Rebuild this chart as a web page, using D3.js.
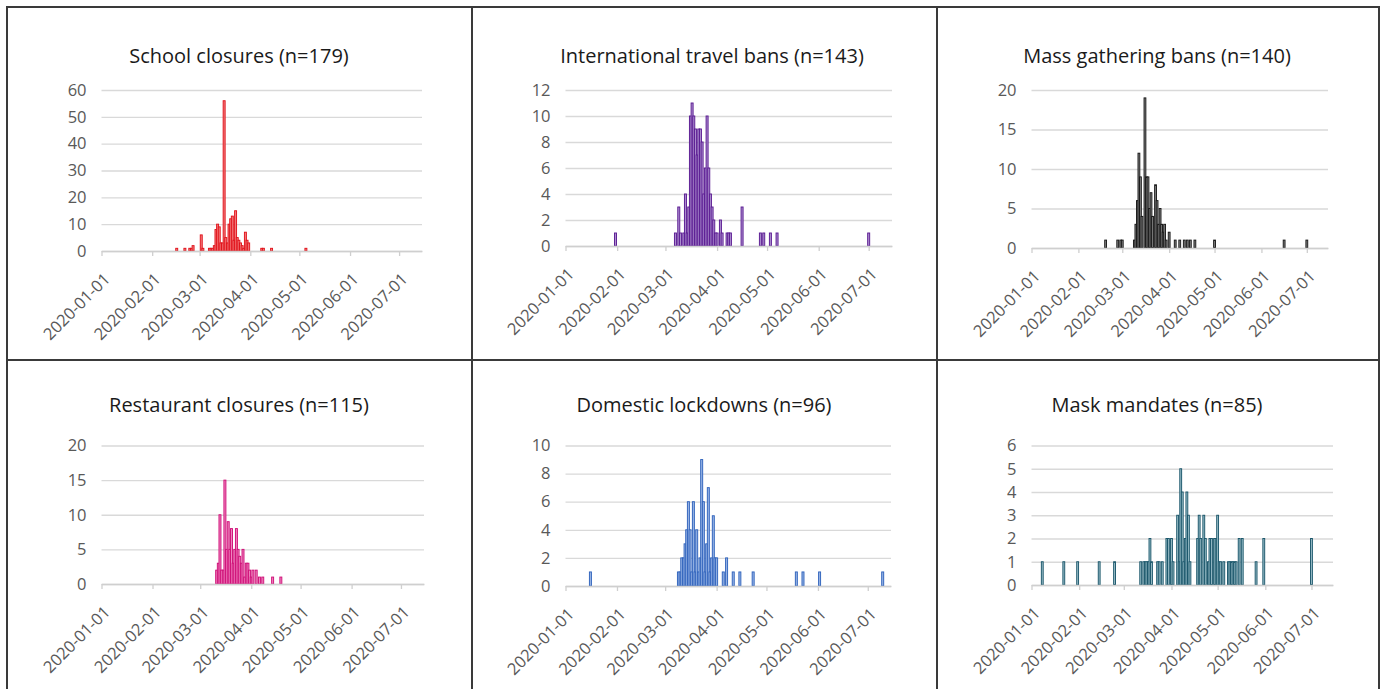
<!DOCTYPE html>
<html>
<head>
<meta charset="utf-8">
<script src="https://cdn.jsdelivr.net/npm/d3@7"></script>
<style>
  html, body { margin: 0; padding: 0; background: #ffffff; }
  svg { display: block; }
  .title { font-family: "Open Sans", "Noto Sans", sans-serif; fill: #1a1a1a; }
  .tick text { font-family: "Open Sans", "Noto Sans", sans-serif; fill: #595959; }
</style>
</head>
<body>
<svg id="chart" width="1384" height="689"></svg>
<script>
// Number of countries adopting each policy, by date of first adoption (2020).
const titles = [
  "School closures (n=179)",
  "International travel bans (n=143)",
  "Mass gathering bans (n=140)",
  "Restaurant closures (n=115)",
  "Domestic lockdowns (n=96)",
  "Mask mandates (n=85)"
];

const schoolClosures = [
  ["2020-02-16", 1], ["2020-02-21", 1], ["2020-02-24", 1], ["2020-02-25", 1], ["2020-02-26", 2],
  ["2020-03-02", 6], ["2020-03-03", 1], ["2020-03-07", 1], ["2020-03-08", 1], ["2020-03-09", 1],
  ["2020-03-10", 2], ["2020-03-11", 8], ["2020-03-12", 10], ["2020-03-13", 9], ["2020-03-14", 3],
  ["2020-03-15", 3], ["2020-03-16", 56], ["2020-03-17", 5], ["2020-03-18", 3], ["2020-03-19", 10],
  ["2020-03-20", 12], ["2020-03-21", 13], ["2020-03-22", 4], ["2020-03-23", 15], ["2020-03-24", 5],
  ["2020-03-25", 4], ["2020-03-26", 3], ["2020-03-27", 2], ["2020-03-28", 1], ["2020-03-29", 7],
  ["2020-03-30", 4], ["2020-03-31", 3], ["2020-04-08", 1], ["2020-04-09", 1], ["2020-04-14", 1],
  ["2020-05-05", 1]
];

const travelBans = [
  ["2020-01-31", 1], ["2020-03-07", 1], ["2020-03-09", 3], ["2020-03-10", 1], ["2020-03-12", 1],
  ["2020-03-13", 4], ["2020-03-14", 1], ["2020-03-15", 3], ["2020-03-16", 10], ["2020-03-17", 11],
  ["2020-03-18", 10], ["2020-03-19", 9], ["2020-03-20", 7], ["2020-03-21", 9], ["2020-03-22", 9],
  ["2020-03-23", 8], ["2020-03-24", 4], ["2020-03-25", 6], ["2020-03-26", 10], ["2020-03-27", 6],
  ["2020-03-28", 4], ["2020-03-29", 3], ["2020-03-30", 2], ["2020-03-31", 1], ["2020-04-01", 1],
  ["2020-04-03", 2], ["2020-04-04", 1], ["2020-04-07", 1], ["2020-04-08", 1], ["2020-04-09", 1],
  ["2020-04-16", 3], ["2020-04-27", 1], ["2020-04-29", 1], ["2020-05-03", 1], ["2020-05-07", 1],
  ["2020-07-01", 1]
];

const gatheringBans = [
  ["2020-02-19", 1], ["2020-02-27", 1], ["2020-02-29", 1], ["2020-03-01", 1], ["2020-03-09", 1],
  ["2020-03-10", 3], ["2020-03-11", 6], ["2020-03-12", 12], ["2020-03-13", 9], ["2020-03-14", 4],
  ["2020-03-16", 19], ["2020-03-17", 9], ["2020-03-18", 9], ["2020-03-19", 5], ["2020-03-20", 7],
  ["2020-03-21", 4], ["2020-03-23", 8], ["2020-03-24", 6], ["2020-03-25", 3], ["2020-03-26", 5],
  ["2020-03-27", 3], ["2020-03-28", 2], ["2020-03-29", 3], ["2020-03-30", 1], ["2020-04-01", 2],
  ["2020-04-05", 1], ["2020-04-08", 1], ["2020-04-11", 1], ["2020-04-13", 1], ["2020-04-15", 1],
  ["2020-04-18", 1], ["2020-05-01", 1], ["2020-06-16", 1], ["2020-07-01", 1]
];

const restaurantClosures = [
  ["2020-03-11", 2], ["2020-03-12", 3], ["2020-03-13", 10], ["2020-03-14", 2], ["2020-03-15", 2],
  ["2020-03-16", 15], ["2020-03-17", 5], ["2020-03-18", 9], ["2020-03-19", 5], ["2020-03-20", 8],
  ["2020-03-21", 3], ["2020-03-22", 5], ["2020-03-23", 8], ["2020-03-24", 5], ["2020-03-25", 4],
  ["2020-03-26", 3], ["2020-03-27", 5], ["2020-03-28", 1], ["2020-03-29", 3], ["2020-03-30", 3],
  ["2020-03-31", 2], ["2020-04-01", 1], ["2020-04-02", 2], ["2020-04-04", 2], ["2020-04-06", 1],
  ["2020-04-08", 1], ["2020-04-14", 1], ["2020-04-19", 1]
];

const domesticLockdowns = [
  ["2020-01-16", 1], ["2020-03-09", 1], ["2020-03-10", 1], ["2020-03-11", 2], ["2020-03-12", 2],
  ["2020-03-13", 3], ["2020-03-14", 4], ["2020-03-15", 6], ["2020-03-16", 4], ["2020-03-17", 1],
  ["2020-03-18", 6], ["2020-03-19", 1], ["2020-03-20", 4], ["2020-03-21", 1], ["2020-03-22", 2],
  ["2020-03-23", 9], ["2020-03-24", 6], ["2020-03-25", 1], ["2020-03-26", 3], ["2020-03-27", 7],
  ["2020-03-28", 1], ["2020-03-29", 2], ["2020-03-30", 5], ["2020-03-31", 2], ["2020-04-01", 2],
  ["2020-04-05", 1], ["2020-04-07", 2], ["2020-04-11", 1], ["2020-04-15", 1], ["2020-04-23", 1],
  ["2020-05-19", 1], ["2020-05-23", 1], ["2020-06-02", 1], ["2020-07-10", 1]
];

const maskMandates = [
  ["2020-01-08", 1], ["2020-01-22", 1], ["2020-01-31", 1], ["2020-02-14", 1], ["2020-02-24", 1],
  ["2020-03-12", 1], ["2020-03-14", 1], ["2020-03-15", 1], ["2020-03-16", 1], ["2020-03-17", 1],
  ["2020-03-18", 2], ["2020-03-19", 1], ["2020-03-23", 1], ["2020-03-24", 1], ["2020-03-26", 1],
  ["2020-03-29", 2], ["2020-03-30", 2], ["2020-04-01", 2], ["2020-04-02", 1], ["2020-04-05", 3],
  ["2020-04-06", 1], ["2020-04-07", 5], ["2020-04-08", 4], ["2020-04-09", 1], ["2020-04-10", 2],
  ["2020-04-11", 4], ["2020-04-12", 3], ["2020-04-13", 1], ["2020-04-18", 2], ["2020-04-19", 3],
  ["2020-04-20", 2], ["2020-04-22", 3], ["2020-04-23", 2], ["2020-04-25", 1], ["2020-04-26", 2],
  ["2020-04-27", 2], ["2020-04-29", 2], ["2020-04-30", 2], ["2020-05-01", 3], ["2020-05-02", 1],
  ["2020-05-03", 1], ["2020-05-05", 1], ["2020-05-08", 1], ["2020-05-09", 1], ["2020-05-10", 1],
  ["2020-05-11", 1], ["2020-05-12", 1], ["2020-05-13", 1], ["2020-05-15", 2], ["2020-05-17", 2],
  ["2020-05-26", 1], ["2020-05-31", 2], ["2020-07-01", 2]
];

const yTicks = [
  [0, 10, 20, 30, 40, 50, 60],
  [0, 2, 4, 6, 8, 10, 12],
  [0, 5, 10, 15, 20],
  [0, 5, 10, 15, 20],
  [0, 2, 4, 6, 8, 10],
  [0, 1, 2, 3, 4, 5, 6]
];

const monthTicks = ["2020-01-01", "2020-02-01", "2020-03-01", "2020-04-01",
                    "2020-05-01", "2020-06-01", "2020-07-01"];
const dateStart = "2020-01-01";
const dateEnd = "2020-07-15";

const series = [schoolClosures, travelBans, gatheringBans,
                restaurantClosures, domesticLockdowns, maskMandates];

// Bar outline / fill colours for each panel
const strokes = ["#e0121a", "#5a1a92", "#181818", "#cf1078", "#2f62bc", "#1a566a"];
const fills   = ["#f47f80", "#ad90cf", "#858585", "#f084bf", "#9cb8e6", "#9fc2cc"];

// Plot frames: [left, right, top(max tick), bottom(zero)], title centre x / baseline y
const frames = [
  { l: 101.5, r: 422, t: 90, b: 251, tx: 239, ty: 63 },
  { l: 565.5, r: 892, t: 90, b: 246, tx: 712, ty: 63 },
  { l: 1031.5, r: 1328, t: 90, b: 248, tx: 1157, ty: 63 },
  { l: 101.5, r: 424, t: 445.5, b: 584, tx: 239, ty: 412 },
  { l: 565.5, r: 891, t: 445.5, b: 586, tx: 704, ty: 412 },
  { l: 1031.5, r: 1333, t: 445.5, b: 585, tx: 1157, ty: 412 }
];

const parse = d3.utcParse("%Y-%m-%d");
const svg = d3.select("#chart");

// Panel borders
const border = svg.append("g").attr("fill", "none").attr("stroke", "#3a3a3a").attr("stroke-width", 2);
border.append("rect").attr("x", 7).attr("y", 7).attr("width", 1372).attr("height", 720);
border.append("line").attr("x1", 472).attr("x2", 472).attr("y1", 7).attr("y2", 689);
border.append("line").attr("x1", 937).attr("x2", 937).attr("y1", 7).attr("y2", 689);
border.append("line").attr("x1", 7).attr("x2", 1379).attr("y1", 360).attr("y2", 360);

series.forEach((data, i) => {
  const f = frames[i];
  const g = svg.append("g");
  const ticks = yTicks[i];

  const x = d3.scaleUtc()
    .domain([parse(dateStart), parse(dateEnd)])
    .range([f.l, f.r]);
  const y = d3.scaleLinear()
    .domain([0, d3.max(ticks)])
    .range([f.b, f.t]);

  // Title
  g.append("text").attr("class", "title")
    .attr("x", f.tx).attr("y", f.ty)
    .attr("text-anchor", "middle")
    .attr("font-size", 20)
    .text(titles[i]);

  // Horizontal gridlines with value labels
  const yAxis = g.append("g")
    .attr("transform", `translate(${f.l},0)`)
    .call(d3.axisLeft(y).tickValues(ticks).tickFormat(d3.format("d"))
      .tickSize(-(f.r - f.l)).tickPadding(15));
  yAxis.select(".domain").remove();
  yAxis.selectAll(".tick line").attr("stroke", "#d9d9d9").attr("stroke-width", 1.3);
  yAxis.selectAll(".tick text").attr("font-size", 16.5);

  // Daily bars
  const dayW = x(parse("2020-01-02")) - x(parse("2020-01-01"));
  const barW = dayW * 1.2;
  g.append("g")
    .selectAll("rect")
    .data(data)
    .join("rect")
    .attr("x", d => x(parse(d[0])) - barW / 2)
    .attr("y", d => y(d[1]))
    .attr("width", barW)
    .attr("height", d => y(0) - y(d[1]))
    .attr("fill", fills[i])
    .attr("stroke", strokes[i])
    .attr("stroke-width", 0.95);

  // Date axis with month ticks and slanted labels
  const xAxis = g.append("g")
    .attr("transform", `translate(0,${f.b})`)
    .call(d3.axisBottom(x).tickValues(monthTicks.map(parse)).tickSize(5)
      .tickFormat(d3.utcFormat("%Y-%m-%d")).tickSizeOuter(0));
  xAxis.select(".domain").attr("stroke", "#cfcfcf").attr("stroke-width", 1.3);
  xAxis.selectAll(".tick line").attr("stroke", "#cfcfcf").attr("stroke-width", 1.3);
  xAxis.selectAll(".tick text")
    .attr("font-size", 16.5)
    .attr("text-anchor", "end")
    .attr("dy", "0.35em")
    .attr("transform", "translate(5,25) rotate(-45)")
    .attr("y", 0).attr("x", 0);
});
</script>
</body>
</html>
